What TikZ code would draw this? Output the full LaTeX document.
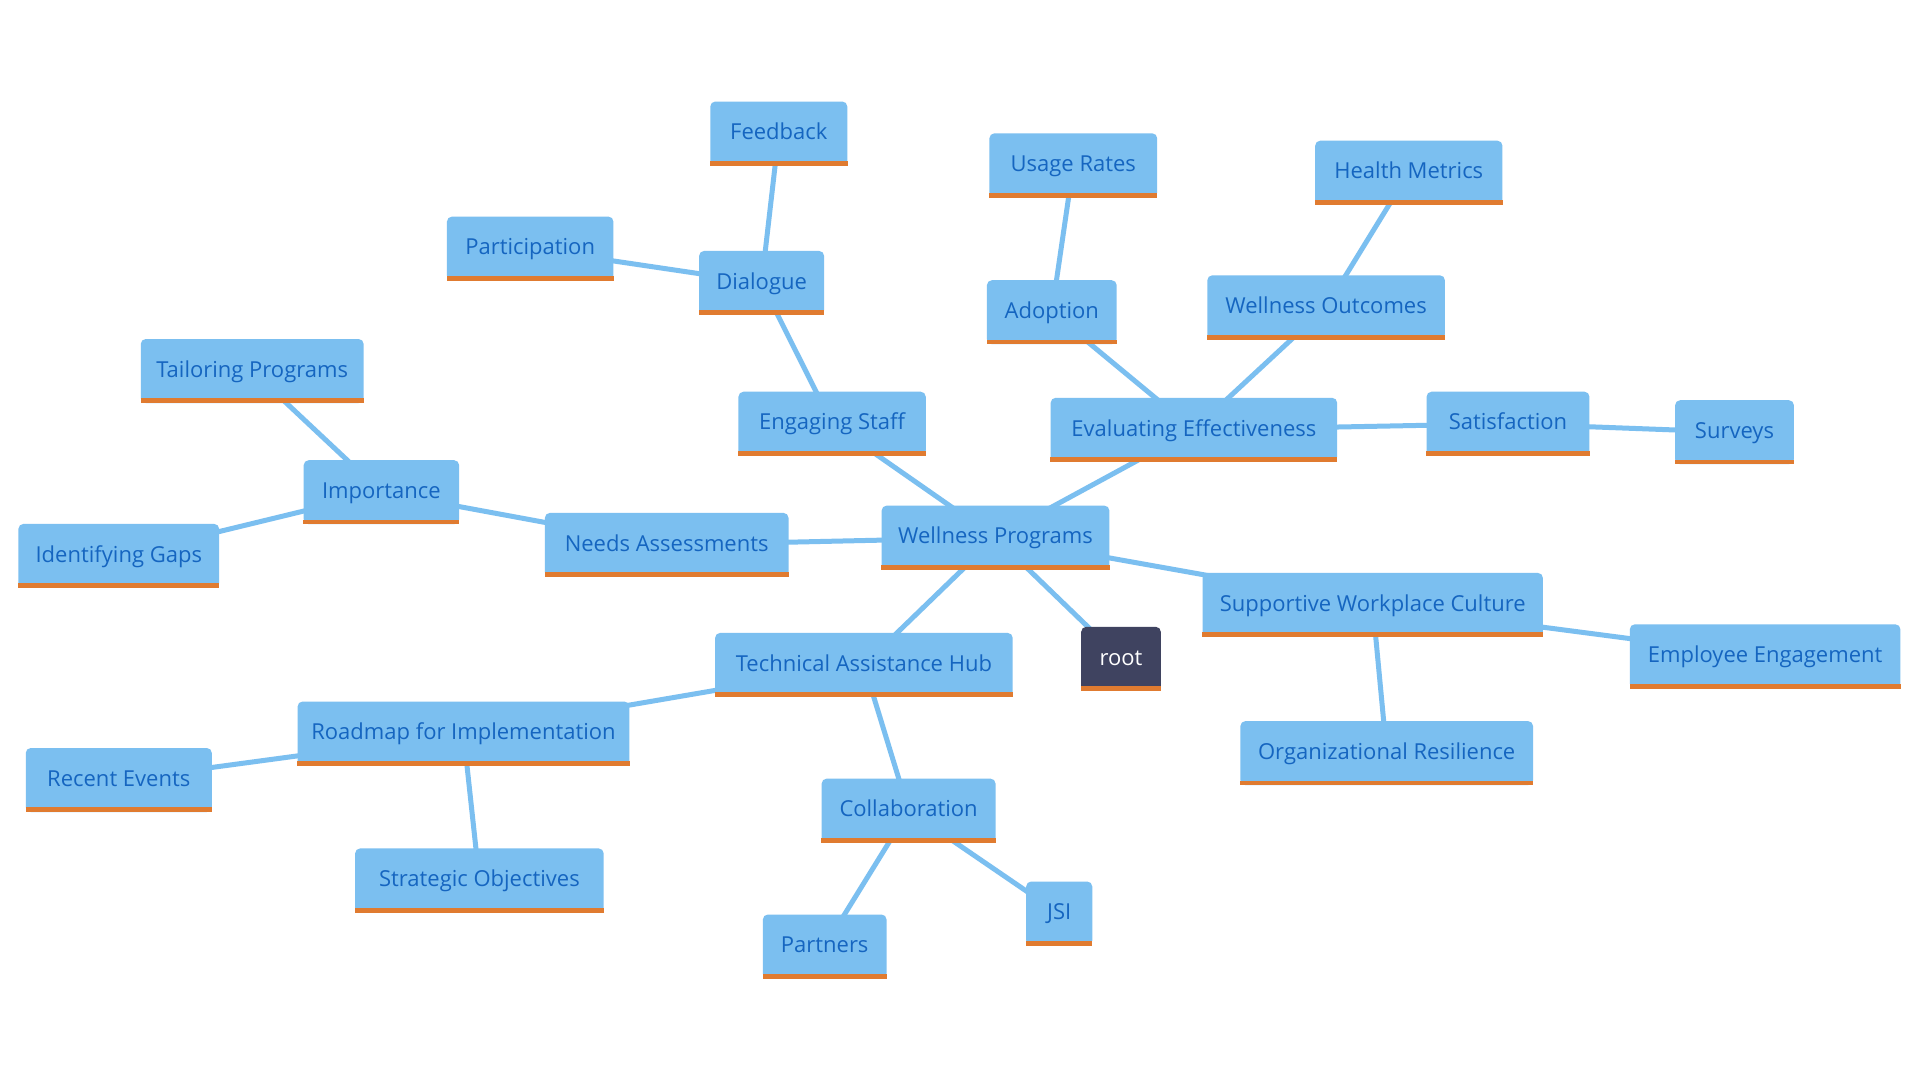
\documentclass[tikz,border=0pt]{standalone}
\usepackage{fontspec}
\setmainfont{Open Sans}
\usetikzlibrary{backgrounds}
\definecolor{boxblue}{HTML}{7BBFF0}
\definecolor{txtblue}{HTML}{1565C0}
\definecolor{barorange}{HTML}{E07B30}
\definecolor{rootfill}{HTML}{3F4360}
\definecolor{edgeblue}{HTML}{7BBFF0}
\tikzset{
  mbox/.style={fill=boxblue, text=txtblue, rounded corners=5pt, minimum height=64pt,
    inner xsep=0pt, inner ysep=0pt, font=\fontsize{22pt}{26pt}\selectfont,
    text height=15.5pt, text depth=3pt, align=center},
  rootbox/.style={mbox, fill=rootfill, text=white},
  link/.style={draw=edgeblue, line width=5pt},
}
\begin{document}
\begin{tikzpicture}[x=1pt,y=-1pt]
\useasboundingbox (0,0) rectangle (1920,1080);
\node[mbox, minimum width=137pt] (feedback) at (778.8,133.5) {Feedback};
\node[mbox, minimum width=166.5pt] (particip) at (530.2,248.6) {Participation};
\node[mbox, minimum width=125pt] (dialogue) at (761.6,282.9) {Dialogue};
\node[mbox, minimum width=167.8pt] (usage) at (1073.3,165.3) {Usage Rates};
\node[mbox, minimum width=187.3pt] (health) at (1408.8,172.7) {Health Metrics};
\node[mbox, minimum width=129.8pt] (adoption) at (1051.8,312.2) {Adoption};
\node[mbox, minimum width=237.6pt] (outcomes) at (1326.1,307.3) {Wellness Outcomes};
\node[mbox, minimum width=222.9pt] (tailor) at (252.2,371.0) {Tailoring Programs};
\node[mbox, minimum width=187.3pt] (engaging) at (832.1,423.7) {Engaging Staff};
\node[mbox, minimum width=286.5pt] (evaluating) at (1193.9,429.8) {Evaluating Effectiveness};
\node[mbox, minimum width=162.9pt] (satisf) at (1508.0,423.7) {Satisfaction};
\node[mbox, minimum width=118.8pt] (surveys) at (1734.5,432.2) {Surveys};
\node[mbox, minimum width=155.5pt] (importance) at (381.4,492.2) {Importance};
\node[mbox, minimum width=243.7pt] (needs) at (666.7,544.9) {Needs Assessments};
\node[mbox, minimum width=227.8pt] (wellness) at (995.5,537.6) {Wellness Programs};
\node[mbox, minimum width=200.8pt] (gaps) at (118.8,555.9) {Identifying Gaps};
\node[mbox, minimum width=340.4pt] (supportive) at (1372.7,604.9) {Supportive Workplace Culture};
\node[mbox, minimum width=297.6pt] (techhub) at (863.9,664.9) {Technical Assistance Hub};
\node[rootbox, minimum width=79.6pt] (root) at (1121.0,658.8) {root};
\node[mbox, minimum width=270.6pt] (employee) at (1765.1,656.3) {Employee Engagement};
\node[mbox, minimum width=331.8pt] (roadmap) at (463.5,733.5) {Roadmap for Implementation};
\node[mbox, minimum width=186.1pt] (recent) at (118.8,780.0) {Recent Events};
\node[mbox, minimum width=292.7pt] (resilience) at (1386.7,753.1) {Organizational Resilience};
\node[mbox, minimum width=173.9pt] (collab) at (908.6,810.6) {Collaboration};
\node[mbox, minimum width=248.6pt] (strategic) at (479.4,880.4) {Strategic Objectives};
\node[mbox, minimum width=66.1pt] (jsi) at (1059.2,913.5) {JSI};
\node[mbox, minimum width=123.7pt] (partners) at (824.7,946.5) {Partners};
\foreach \n in {feedback,particip,dialogue,usage,health,adoption,outcomes,tailor,engaging,evaluating,satisf,surveys,importance,needs,wellness,gaps,supportive,techhub,root,employee,roadmap,recent,resilience,collab,strategic,jsi,partners}
  \fill[barorange] ([yshift=4.8pt]\n.south west) rectangle (\n.south east);
\begin{scope}[on background layer]
\fill[white] (0,0) rectangle (1920,1080);
\foreach \a/\b in {wellness/engaging,wellness/evaluating,wellness/needs,wellness/supportive,wellness/techhub,wellness/root,
  engaging/dialogue,dialogue/feedback,dialogue/particip,
  evaluating/adoption,adoption/usage,evaluating/outcomes,outcomes/health,evaluating/satisf,satisf/surveys,
  needs/importance,importance/tailor,importance/gaps,
  supportive/employee,supportive/resilience,
  techhub/roadmap,roadmap/recent,roadmap/strategic,techhub/collab,collab/jsi,collab/partners}
  \draw[link] (\a.center) -- (\b.center);
\end{scope}
\end{tikzpicture}
\end{document}
